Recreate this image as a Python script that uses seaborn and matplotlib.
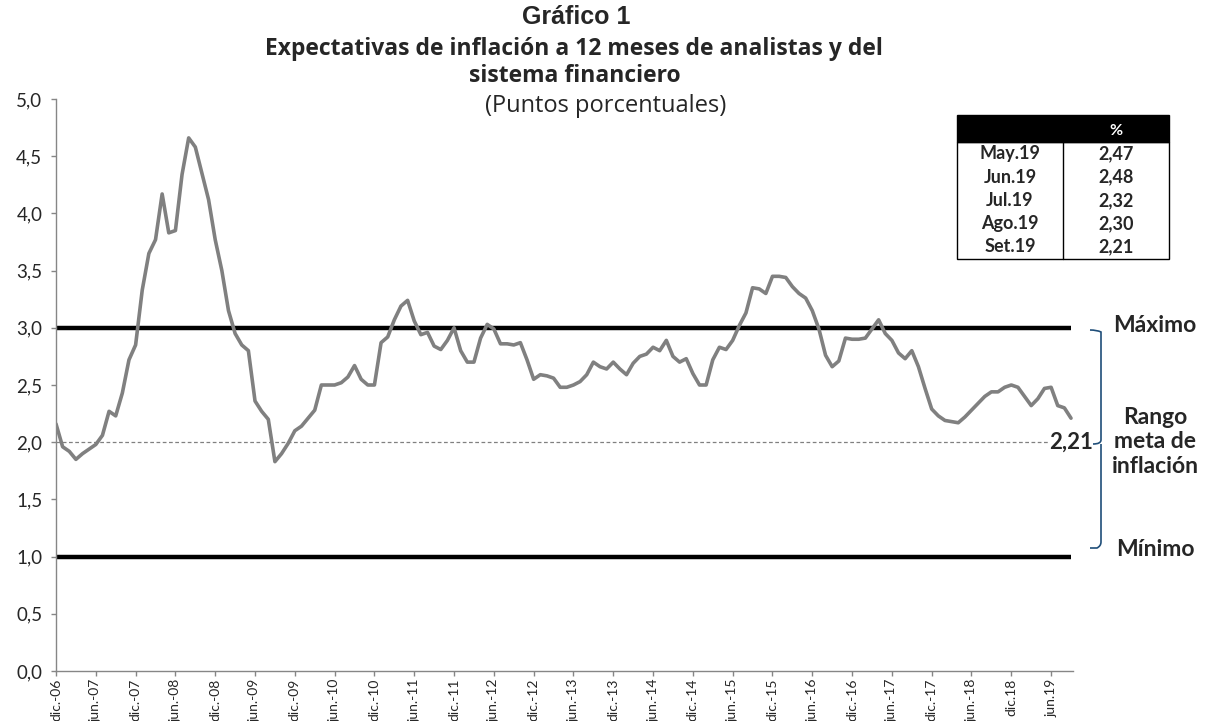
import numpy as np
import pandas as pd
import seaborn as sns
import matplotlib.pyplot as plt
from matplotlib.path import Path
from matplotlib.patches import PathPatch, Rectangle

# Expectativas de inflación a 12 meses, dic-06 a set-19 (mensual)
expectativas = [
    2.16, 1.96, 1.92, 1.85, 1.90, 1.94, 1.98, 2.06, 2.27, 2.23,
    2.43, 2.72, 2.85, 3.33, 3.65, 3.77, 4.17, 3.83, 3.85, 4.34,
    4.66, 4.58, 4.35, 4.12, 3.77, 3.50, 3.15, 2.95, 2.85, 2.80,
    2.36, 2.27,
    2.20, 1.83, 1.90, 1.99, 2.10, 2.14, 2.21, 2.28,
    2.50, 2.50, 2.50, 2.52, 2.57, 2.67, 2.55, 2.50, 2.50, 2.87,
    2.92, 3.07, 3.19, 3.24, 3.06, 2.94, 2.96, 2.84, 2.81, 2.89,
    3.00, 2.80, 2.70, 2.70, 2.91, 3.03, 2.99, 2.86, 2.86, 2.85,
    2.87, 2.72, 2.55, 2.59, 2.58, 2.56, 2.48, 2.48, 2.50, 2.53,
    2.59, 2.70, 2.66, 2.64, 2.70, 2.64, 2.59, 2.69, 2.75, 2.77,
    2.83,
    2.80, 2.89, 2.75, 2.70, 2.73, 2.60, 2.50, 2.50, 2.72, 2.83,
    2.81, 2.89, 3.02, 3.13, 3.35, 3.34, 3.30, 3.45, 3.45, 3.44,
    3.36, 3.30, 3.26, 3.15, 2.99, 2.76, 2.66, 2.71, 2.91, 2.90,
    2.90,
    2.91, 2.99, 3.07, 2.95, 2.89, 2.78, 2.73, 2.80, 2.66, 2.47,
    2.29, 2.23, 2.19, 2.18, 2.17, 2.22, 2.28, 2.34, 2.40, 2.44,
    2.44, 2.48, 2.50, 2.48, 2.40, 2.32, 2.38, 2.47, 2.48, 2.32,
    2.30, 2.21,
]

x_labels = ['dic.-06', 'jun.-07', 'dic.-07', 'jun.-08', 'dic.-08', 'jun.-09',
            'dic.-09', 'jun.-10', 'dic.-10', 'jun.-11', 'dic.-11', 'jun.-12',
            'dic.-12', 'jun.-13', 'dic.-13', 'jun.-14', 'dic.-14', 'jun.-15',
            'dic.-15', 'jun.-16', 'dic.-16', 'jun.-17', 'dic.-17', 'jun.-18',
            'dic.18', 'jun.19']

meta_max = 3.0
meta_min = 1.0
meta_centro = 2.0

tabla_meses = ['May.19', 'Jun.19', 'Jul.19', 'Ago.19', 'Set.19']
tabla_valores = ['2,47', '2,48', '2,32', '2,30', '2,21']

sns.set_style("white")
plt.rcParams['font.family'] = ['Lato', 'DejaVu Sans']

df = pd.DataFrame({'mes': np.arange(len(expectativas)), 'valor': expectativas})

W, H = 1208, 721
fig = plt.figure(figsize=(W / 100, H / 100), dpi=100)
ax = fig.add_axes([56 / W, 1 - 671 / H, (1073 - 56) / W, (671 - 99) / H])

def fx(px):
    return px / W

def fy(py):
    return 1 - py / H

n = len(expectativas)
ax.hlines(meta_centro, 0, n - 1, colors='#808080', linestyles=(0, (3, 2)), linewidth=0.9)
ax.hlines([meta_max, meta_min], 0, n - 1, colors='black', linewidth=3.2)
sns.lineplot(data=df, x='mes', y='valor', ax=ax, color='#808080', linewidth=2.6)

ax.set_xlim(0, 153.3)
ax.set_ylim(0, 5)
ax.set_xticks(np.arange(0, n, 6))
ax.set_xticklabels(x_labels, rotation=90, va='top', ha='center')
ax.set_yticks(np.arange(0, 5.01, 0.5))
ax.set_yticklabels([f'{v:.1f}'.replace('.', ',') for v in np.arange(0, 5.01, 0.5)])
ax.set_xlabel('')
ax.set_ylabel('')
for s in ['top', 'right']:
    ax.spines[s].set_visible(False)
for s in ['left', 'bottom']:
    ax.spines[s].set_color('#868686')
    ax.spines[s].set_linewidth(1)
ax.tick_params(axis='x', length=3.5, width=1, color='#868686', labelsize=10, pad=2, direction='out', bottom=True)
ax.tick_params(axis='y', length=3.8, width=1, color='#868686', labelsize=13.5, pad=6, direction='out', left=True)

# etiqueta del último dato
ax.text(n - 1, expectativas[-1] - 0.21, '2,21', ha='center', va='center', fontsize=16,
        fontweight='bold', bbox=dict(facecolor='white', edgecolor='none', pad=0.5))

# títulos
fig.text(fx(576), fy(17), 'Gráfico 1', ha='center', va='center', fontsize=18,
         fontweight='bold', family='Liberation Sans')
fig.text(fx(574), fy(49), 'Expectativas de inflación a 12 meses de analistas y del',
         ha='center', va='center', fontsize=16.5, fontweight='bold', family='Open Sans')
fig.text(fx(575), fy(76), 'sistema financiero', ha='center', va='center', fontsize=16.5,
         fontweight='bold', family='Open Sans')
fig.text(fx(606), fy(106), '(Puntos porcentuales)', ha='center', va='center', fontsize=17,
         family='Open Sans')

# tabla
tx0, tx1, tmid = 957, 1169, 1063
ty0, thead, ty1 = 115, 142, 259
fig.patches.append(Rectangle((fx(tx0), fy(thead)), fx(tx1) - fx(tx0), fy(ty0) - fy(thead),
                             transform=fig.transFigure, facecolor='black', edgecolor='black', lw=1))
fig.patches.append(Rectangle((fx(tx0), fy(ty1)), fx(tx1) - fx(tx0), fy(thead) - fy(ty1),
                             transform=fig.transFigure, facecolor='none', edgecolor='black', lw=1))
fig.lines.append(plt.Line2D([fx(tmid), fx(tmid)], [fy(thead), fy(ty1)], transform=fig.transFigure,
                            color='black', lw=1))
fig.text(fx(1116), fy(131), '%', ha='center', va='center', color='white', fontsize=11.5, fontweight='bold')
for k, (m, v) in enumerate(zip(tabla_meses, tabla_valores)):
    yy = 154 + k * 23.2
    fig.text(fx(1010), fy(yy), m, ha='center', va='center', fontsize=13, fontweight='bold')
    fig.text(fx(1116), fy(yy), v, ha='center', va='center', fontsize=13, fontweight='bold')

# llave del rango meta
bx, btop, bbot, bmid = 1101, 330, 548, 444
verts = [(1090, btop), (1097, btop), (bx, btop + 2), (bx, btop + 6),
         (bx, bmid - 4), (bx, bmid), (1093, bmid),
         (bx, bmid), (bx, bmid + 4),
         (bx, bbot - 6), (bx, bbot - 2), (1097, bbot), (1090, bbot)]
codes = [Path.MOVETO, Path.CURVE3, Path.CURVE3, Path.LINETO,
         Path.LINETO, Path.CURVE3, Path.CURVE3,
         Path.MOVETO, Path.LINETO,
         Path.LINETO, Path.CURVE3, Path.CURVE3, Path.LINETO]
verts = [(fx(a), fy(b)) for a, b in verts]
fig.patches.append(PathPatch(Path(verts, codes), transform=fig.transFigure, facecolor='none',
                             edgecolor='#1F4E79', lw=1.2))

fig.text(fx(1155), fy(326), 'Máximo', ha='center', va='center', fontsize=16.5, fontweight='bold')
fig.text(fx(1155), fy(442), 'Rango\nmeta de\ninflación', ha='center', va='center', fontsize=16.5,
         fontweight='bold', linespacing=1.2)
fig.text(fx(1155), fy(550), 'Mínimo', ha='center', va='center', fontsize=16.5, fontweight='bold')

fig.savefig('out.png', dpi=100)
